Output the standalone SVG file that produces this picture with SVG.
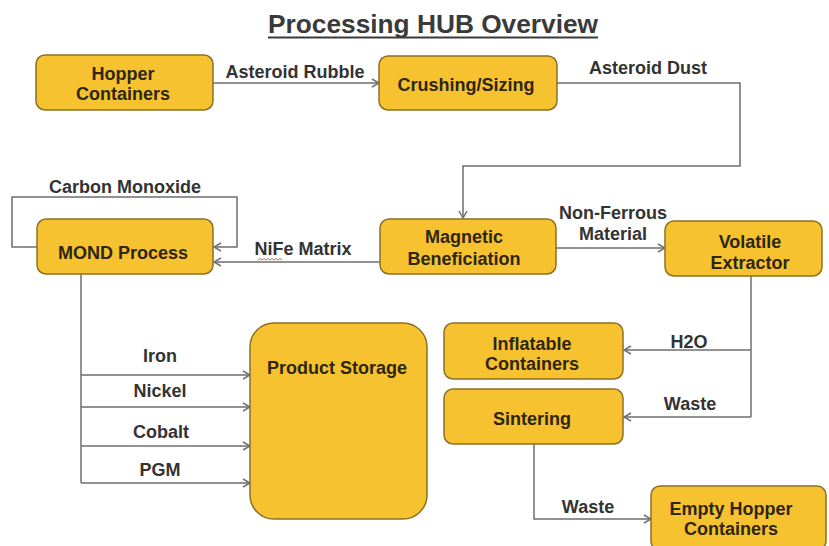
<svg xmlns="http://www.w3.org/2000/svg" width="829" height="546" viewBox="0 0 829 546">
<defs>
<marker id="arr" viewBox="0 0 10 10" refX="9" refY="5" markerWidth="10" markerHeight="10" markerUnits="userSpaceOnUse" orient="auto">
<polyline points="2,1 9,5 2,9" fill="none" stroke="#707070" stroke-width="1.5"/>
</marker>
</defs>
<style>
.box{fill:#F6C22F;stroke:#8C7024;stroke-width:1.5}
.bt{font-family:"Liberation Sans",Arial,sans-serif;font-weight:bold;font-size:18px;fill:#2E2610;text-anchor:middle}
.lb{font-family:"Liberation Sans",Arial,sans-serif;font-weight:bold;font-size:18px;fill:#333333;text-anchor:middle}
.ln{fill:none;stroke:#6E6E6E;stroke-width:1.5}
.ar{marker-end:url(#arr)}
</style>
<rect width="829" height="546" fill="#FFFFFF"/>
<g id="title">
<text x="433" y="33" font-family="Liberation Sans,Arial,sans-serif" font-weight="bold" font-size="25" fill="#3A3A3A" text-anchor="middle" textLength="330" lengthAdjust="spacingAndGlyphs">Processing HUB Overview</text>
<line x1="268" y1="37.5" x2="598" y2="37.5" stroke="#3A3A3A" stroke-width="2"/>
</g>
<g id="connectors">
<path class="ln ar" d="M213,83 H379"/>
<path class="ln ar" d="M557,83 H740 V166 H463 V218"/>
<path class="ln ar" d="M37,247 H12 V197 H237 V247 H214"/>
<path class="ln ar" d="M380,262 H214"/>
<path class="ln ar" d="M556,248 H665"/>
<path class="ln" d="M751,276 V417"/>
<path class="ln ar" d="M751,350 H624"/>
<path class="ln ar" d="M751,417 H624"/>
<path class="ln ar" d="M534,444 V519 H651"/>
<path class="ln" d="M81,274 V483"/>
<path class="ln ar" d="M81,375 H250"/>
<path class="ln ar" d="M81,407 H250"/>
<path class="ln ar" d="M81,446 H250"/>
<path class="ln ar" d="M81,483 H250"/>
</g>
<g id="labels">
<text class="lb" x="295" y="78">Asteroid Rubble</text>
<text class="lb" x="648" y="74">Asteroid Dust</text>
<text class="lb" x="125" y="193">Carbon Monoxide</text>
<text class="lb" x="303" y="255">NiFe Matrix</text>
<path d="M258,260 l2,-1.5 l2,1.5 l2,-1.5 l2,1.5 l2,-1.5 l2,1.5 l2,-1.5 l2,1.5 l2,-1.5 l2,1.5 l2,-1.5 l2,1.5" fill="none" stroke="#D04040" stroke-width="0.8"/>
<text class="lb" x="613" y="219">Non-Ferrous</text>
<text class="lb" x="613" y="240">Material</text>
<text class="lb" x="689" y="348">H2O</text>
<text class="lb" x="690" y="410">Waste</text>
<text class="lb" x="588" y="513">Waste</text>
<text class="lb" x="160" y="362">Iron</text>
<text class="lb" x="160" y="397">Nickel</text>
<text class="lb" x="161" y="438">Cobalt</text>
<text class="lb" x="160" y="476">PGM</text>
</g>
<g id="hopper">
<rect class="box" x="36" y="55" width="177" height="55" rx="9"/>
<text class="bt" x="123" y="80">Hopper</text>
<text class="bt" x="123" y="100">Containers</text>
</g>
<g id="crushing">
<rect class="box" x="379" y="56" width="178" height="54" rx="9"/>
<text class="bt" x="466" y="91">Crushing/Sizing</text>
</g>
<g id="mond">
<rect class="box" x="37" y="219" width="176" height="55" rx="9"/>
<text class="bt" x="123" y="259">MOND Process</text>
</g>
<g id="magnetic">
<rect class="box" x="380" y="219" width="176" height="55" rx="9"/>
<text class="bt" x="464" y="243">Magnetic</text>
<text class="bt" x="464" y="265">Beneficiation</text>
</g>
<g id="volatile">
<rect class="box" x="665" y="221" width="157" height="55" rx="9"/>
<text class="bt" x="750" y="248">Volatile</text>
<text class="bt" x="750" y="269">Extractor</text>
</g>
<g id="inflatable">
<rect class="box" x="444" y="323" width="179" height="56" rx="9"/>
<text class="bt" x="532" y="350">Inflatable</text>
<text class="bt" x="532" y="370">Containers</text>
</g>
<g id="sintering">
<rect class="box" x="444" y="389" width="179" height="55" rx="9"/>
<text class="bt" x="532" y="425">Sintering</text>
</g>
<g id="product">
<rect class="box" x="250" y="323" width="177" height="196" rx="24"/>
<text class="bt" x="337" y="374">Product Storage</text>
</g>
<g id="empty">
<rect class="box" x="651" y="486" width="175" height="64" rx="9"/>
<text class="bt" x="731" y="515">Empty Hopper</text>
<text class="bt" x="731" y="535">Containers</text>
</g>
</svg>
